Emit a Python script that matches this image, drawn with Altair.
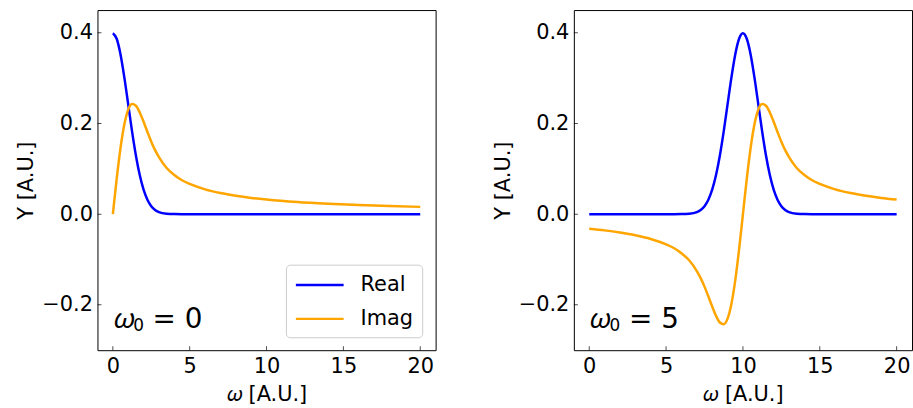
import altair as alt
import pandas as pd

# ---- data ----
# left panel (omega_0 = 0)
omega_left = [0, 0.25, 0.5, 0.75, 1, 1.25, 1.5, 1.75, 2, 2.25, 2.5, 2.75, 3, 3.5,
              4, 4.5, 5, 6, 7, 8, 9, 10, 12, 14, 16, 18, 20]
real_left = [0.3989, 0.3867, 0.3521, 0.3011, 0.2420, 0.1826, 0.1295, 0.0863, 0.0540,
             0.0317, 0.0175, 0.0091, 0.0044, 0.0009, 0.0001, 0.0, 0.0, 0.0, 0.0, 0.0,
             0.0, 0.0, 0.0, 0.0, 0.0, 0.0, 0.0]
imag_left = [0.0, 0.0777, 0.1459, 0.1980, 0.2305, 0.2428, 0.2390, 0.2243, 0.2037,
             0.1812, 0.1598, 0.1411, 0.1256, 0.1018, 0.0862, 0.0747, 0.0666, 0.0547,
             0.0465, 0.0405, 0.0358, 0.0322, 0.0267, 0.0229, 0.0200, 0.0177, 0.0160]

# right panel (omega_0 = 5)
omega_right = [0, 1, 2, 3, 4, 5, 5.5, 6, 6.5, 7, 7.25, 7.5, 7.75, 8, 8.25, 8.5, 8.75,
               9, 9.25, 9.5, 9.75, 10, 10.25, 10.5, 10.75, 11, 11.25, 11.5, 11.75, 12,
               12.25, 12.5, 12.75, 13, 13.5, 14, 14.5, 15, 16, 17, 18, 19, 20]
real_right = [0.0, 0.0, 0.0, 0.0, 0.0, 0.0, 0.0, 0.0001, 0.0009, 0.0044, 0.0091, 0.0175,
              0.0317, 0.0540, 0.0863, 0.1295, 0.1826, 0.2420, 0.3011, 0.3521, 0.3867,
              0.3989, 0.3867, 0.3521, 0.3011, 0.2420, 0.1826, 0.1295, 0.0863, 0.0540,
              0.0317, 0.0175, 0.0091, 0.0044, 0.0009, 0.0001, 0.0, 0.0, 0.0, 0.0, 0.0,
              0.0, 0.0]
imag_right = [-0.0322, -0.0358, -0.0405, -0.0465, -0.0547, -0.0666, -0.0747, -0.0862,
              -0.1018, -0.1256, -0.1411, -0.1598, -0.1812, -0.2037, -0.2243, -0.2390,
              -0.2428, -0.2305, -0.1980, -0.1459, -0.0777, 0.0, 0.0777, 0.1459, 0.1980,
              0.2305, 0.2428, 0.2390, 0.2243, 0.2037, 0.1812, 0.1598, 0.1411, 0.1256,
              0.1018, 0.0862, 0.0747, 0.0666, 0.0547, 0.0465, 0.0405, 0.0358, 0.0322]

series_names = ["Real", "Imag"]
series_colors = ["#0000ff", "#ffa500"]
x_ticks = [0, 5, 10, 15, 20]
y_ticks = [-0.2, 0.0, 0.2, 0.4]
x_domain = [-1, 21]
y_domain = [-0.3, 0.45]
omega0_values = ["0", "5"]
label_pos = [0, -0.25]

W, H = 340, 342
FONT = "DejaVu Sans"

xscale = alt.Scale(domain=x_domain, nice=False, zero=False)
yscale = alt.Scale(domain=y_domain, nice=False, zero=False)
xaxis = alt.Axis(values=x_ticks, format="d", ticks=False, domain=False, grid=False,
                 labelFontSize=21, labelFont=FONT, labelColor="black", labelPadding=5,
                 title="𝜔 [A.U.]", titleFontSize=21, titleFont=FONT,
                 titleFontWeight="normal", titleColor="black", titlePadding=8,
                 labelFlush=False)
yaxis = alt.Axis(values=y_ticks, format=".1f", ticks=False, domain=False, grid=False,
                 labelFontSize=21, labelFont=FONT, labelColor="black", labelPadding=5,
                 title="Y [A.U.]", titleFontSize=21, titleFont=FONT,
                 titleFontWeight="normal", titleColor="black", titlePadding=5)


def note(text, size, dx, dy):
    df = pd.DataFrame({"omega": [label_pos[0]], "value": [label_pos[1]], "label": [text]})
    return alt.Chart(df).mark_text(
        align="left", baseline="alphabetic", fontSize=size, font=FONT, color="black",
        dx=dx, dy=dy).encode(
        x=alt.X("omega:Q", scale=xscale, axis=xaxis),
        y=alt.Y("value:Q", scale=yscale, axis=yaxis),
        text="label:N",
    )


def panel(om, re, im, w0, with_legend):
    n = len(om)
    df = pd.DataFrame({
        "omega": list(om) + list(om),
        "value": list(re) + list(im),
        "series": ["Real"] * n + ["Imag"] * n,
    })
    if with_legend:
        legend = alt.Legend(orient="none", legendX=189.5, legendY=256, title=None,
                            symbolType="M-2.286,0H2.286", symbolSize=441,
                            symbolStrokeWidth=2.5, symbolOffset=13.5,
                            labelFontSize=21, labelFont=FONT, labelColor="black",
                            labelOffset=29, rowPadding=12, padding=8.5,
                            fillColor="white", strokeColor="#cccccc", cornerRadius=4)
    else:
        legend = None
    lines = alt.Chart(df).mark_line(strokeWidth=2.5, clip=True, interpolate="monotone").encode(
        x=alt.X("omega:Q", scale=xscale, axis=xaxis),
        y=alt.Y("value:Q", scale=yscale, axis=yaxis),
        color=alt.Color("series:N", sort=series_names,
                        scale=alt.Scale(domain=series_names, range=series_colors),
                        legend=legend),
    )
    xt = alt.Chart(pd.DataFrame({"omega": x_ticks})).mark_tick(
        color="black", thickness=1, size=8, clip=True).encode(
        x=alt.X("omega:Q", scale=xscale, axis=xaxis),
        y=alt.value(H),
    )
    yt = alt.Chart(pd.DataFrame({"value": y_ticks})).mark_tick(
        color="black", thickness=1, size=8, clip=True).encode(
        y=alt.Y("value:Q", scale=yscale, axis=yaxis),
        x=alt.value(0),
    )
    t1 = note("𝜔", 28, 1, 0)
    t2 = note("0", 17, 20.5, 4)
    t3 = note("= " + w0, 28, 40, 0)
    return alt.layer(lines, xt, yt, t1, t2, t3).properties(
        width=W, height=H,
        view=alt.ViewBackground(stroke="black", strokeWidth=1, fill="white"),
    )


left = panel(omega_left, real_left, imag_left, omega0_values[0], True)
right = panel(omega_right, real_right, imag_right, omega0_values[1], False)

chart = alt.hconcat(left, right, spacing=55).resolve_scale(color="independent").properties(
    padding={"left": 15, "top": 8, "right": 0, "bottom": 0},
    background="white",
).configure_view(stroke="black", strokeWidth=1).configure(font=FONT)

chart.save("out.html", embed_options={"renderer": "svg", "actions": False})
